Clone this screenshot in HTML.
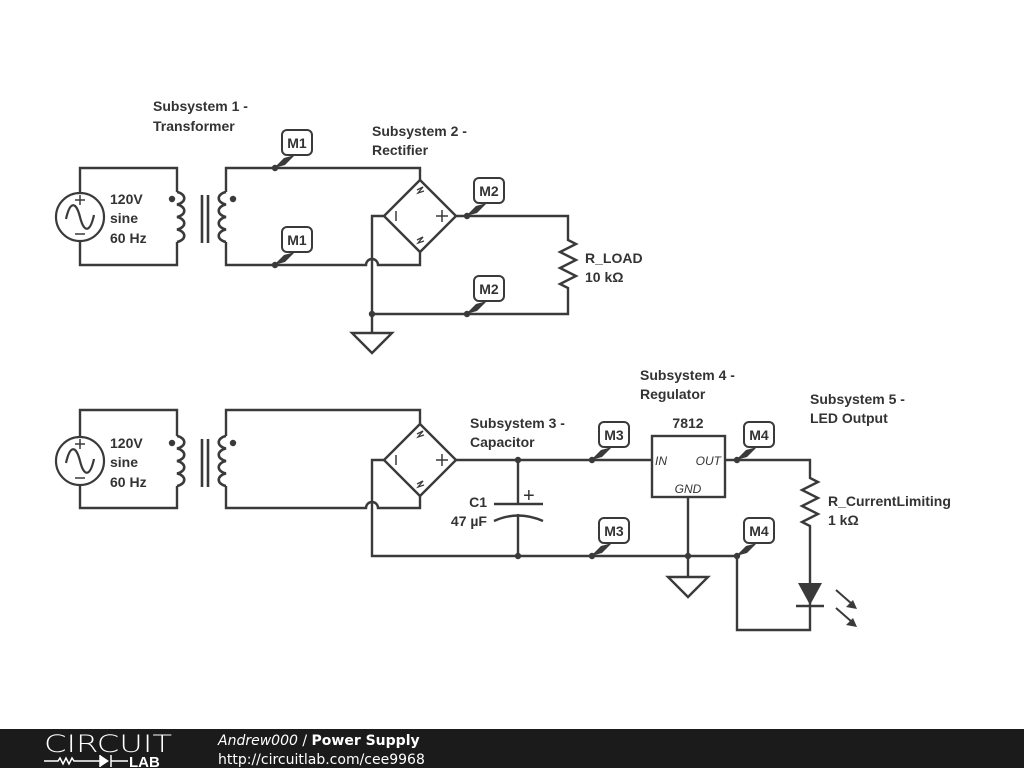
<!DOCTYPE html>
<html><head><style>
body{margin:0;width:1024px;height:768px;background:#fff;overflow:hidden;font-family:"Liberation Sans",sans-serif}
</style></head><body>
<svg width="1024" height="768" xmlns="http://www.w3.org/2000/svg">
<defs>
<g id="src"><circle r="24" fill="none" stroke="#3a3a3a" stroke-width="2.2"/><path d="M-14 2 C-10 -16 -4 -16 0 0 C4 16 10 16 14 -2" fill="none" stroke="#3a3a3a" stroke-width="2.2"/><path d="M-5 -17 h10 M0 -22 v10 M-5 17 h10" stroke="#3a3a3a" stroke-width="1.5"/></g>
<g id="xf" fill="none" stroke="#3a3a3a" stroke-width="2.6">
<path d="M177 192 a10 6.5 0 0 1 0 12.5 a10 6.5 0 0 1 0 12.5 a10 6.5 0 0 1 0 12.5 a10 6.5 0 0 1 0 12.5"/>
<path d="M226 192 a10 6.5 0 0 0 0 12.5 a10 6.5 0 0 0 0 12.5 a10 6.5 0 0 0 0 12.5 a10 6.5 0 0 0 0 12.5"/>
<path d="M202 195 v48 M208 195 v48"/>
</g>
<g id="br" fill="none" stroke="#3a3a3a" stroke-width="2.4"><path d="M420 180 L456 216 L420 252 L384 216 Z"/><path d="M396 211 v10 M436 216 h12 M442 210 v12" stroke-width="1.5"/><path d="M417 190 l6 -3 l-5 6 l6 -2 M417 240 l6 -3 l-5 6 l6 -2" stroke-width="1.3"/></g>
<g id="mk"><path d="M-1 0 L9 -10 L20 -13 L10 -3 Z" fill="#3a3a3a"/><rect x="7" y="-38" width="30" height="25" rx="5" fill="#fff" stroke="#3a3a3a" stroke-width="2"/></g>
</defs>
<g fill="none" stroke="#3a3a3a" stroke-width="2.4">
<path d="M80 193 V168 H177 V192 M177 242 V265 H80 V241"/>
<path d="M226 192 V168 H420 V180 M226 242 V265 H366 a6 6 0 0 1 12 0 H420 V252"/>
<path d="M384 216 H372 V333 M456 216 H568 V240 l8 4 l-16 8 l16 8 l-16 8 l16 8 l-16 8 l8 4 V314 H372"/>
<path d="M352 333 H392 L372 353 Z"/>
<path d="M80 437 V410 H177 V436 M177 486 V508 H80 V485"/>
<path d="M226 436 V410 H420 V424 M226 486 V508 H366 a6 6 0 0 1 12 0 H420 V496"/>
<path d="M384 460 H372 V556 H737 M456 460 H652 M725 460 H810 V478 l8 4 l-16 8 l16 8 l-16 8 l16 8 l-16 8 l8 4 V630 H737 V556"/>
<path d="M518 460 V504 M494 504 H543 M494 521 Q518 510 543 521 M518 514 V556"/>
<rect x="652" y="436" width="73" height="61"/>
<path d="M688 497 V577 M668 577 H708 L688 597 Z"/>
<path d="M796 606 H824"/>
<path d="M836 590 L852 604 M836 608 L852 622" stroke-width="2"/>
</g>
<path d="M798 583 H822 L810 605 Z" fill="#3a3a3a"/>
<path d="M857 609 l-11 -2 l7 -7 Z M857 627 l-11 -2 l7 -7 Z" fill="#3a3a3a"/>
<use href="#src" x="80" y="217"/><use href="#src" x="80" y="461"/>
<use href="#xf"/><use href="#xf" y="244"/>
<use href="#br"/><use href="#br" y="244"/>
<g fill="#3a3a3a">
<circle cx="172" cy="199" r="3.2"/><circle cx="233" cy="199" r="3.2"/><circle cx="172" cy="443" r="3.2"/><circle cx="233" cy="443" r="3.2"/>
<circle cx="275" cy="168" r="3.2"/><circle cx="275" cy="265" r="3.2"/><circle cx="467" cy="216" r="3.2"/><circle cx="467" cy="314" r="3.2"/><circle cx="372" cy="314" r="3.2"/>
<circle cx="518" cy="460" r="3.2"/><circle cx="518" cy="556" r="3.2"/><circle cx="592" cy="460" r="3.2"/><circle cx="592" cy="556" r="3.2"/><circle cx="688" cy="556" r="3.2"/><circle cx="737" cy="460" r="3.2"/><circle cx="737" cy="556" r="3.2"/>
</g>
<use href="#mk" x="275" y="168"/><use href="#mk" x="275" y="265"/><use href="#mk" x="467" y="216"/><use href="#mk" x="467" y="314"/>
<use href="#mk" x="592" y="460"/><use href="#mk" x="592" y="556"/><use href="#mk" x="737" y="460"/><use href="#mk" x="737" y="556"/>
<g font-family="Liberation Sans, sans-serif" font-weight="bold" font-size="14" fill="#333">
<text x="297" y="148" text-anchor="middle">M1</text><text x="297" y="245" text-anchor="middle">M1</text>
<text x="489" y="196" text-anchor="middle">M2</text><text x="489" y="294" text-anchor="middle">M2</text>
<text x="614" y="440" text-anchor="middle">M3</text><text x="614" y="536" text-anchor="middle">M3</text>
<text x="759" y="440" text-anchor="middle">M4</text><text x="759" y="536" text-anchor="middle">M4</text>
<text x="153" y="111">Subsystem 1 -</text><text x="153" y="131">Transformer</text>
<text x="372" y="136">Subsystem 2 -</text><text x="372" y="155">Rectifier</text>
<text x="110" y="204">120V</text><text x="110" y="223">sine</text><text x="110" y="243">60 Hz</text>
<text x="110" y="448">120V</text><text x="110" y="467">sine</text><text x="110" y="487">60 Hz</text>
<text x="585" y="263">R_LOAD</text><text x="585" y="282">10 kΩ</text>
<text x="470" y="428">Subsystem 3 -</text><text x="470" y="447">Capacitor</text>
<text x="640" y="380">Subsystem 4 -</text><text x="640" y="399">Regulator</text>
<text x="810" y="404">Subsystem 5 -</text><text x="810" y="423">LED Output</text>
<text x="688" y="428" text-anchor="middle">7812</text>
<text x="487" y="507" text-anchor="end">C1</text><text x="487" y="526" text-anchor="end">47 µF</text>
<text x="828" y="506">R_CurrentLimiting</text><text x="828" y="525">1 kΩ</text>
<text x="523" y="502" font-weight="normal" font-size="20">+</text>
</g>
<g font-family="Liberation Sans, sans-serif" font-style="italic" font-size="12" fill="#333">
<text x="655" y="465">IN</text><text x="721" y="465" text-anchor="end">OUT</text><text x="688" y="493" text-anchor="middle">GND</text>
</g>
<rect x="0" y="729" width="1024" height="39" fill="#1b1b1b"/>
<text x="44" y="752" font-family="DejaVu Sans, sans-serif" font-size="24" font-weight="200" fill="#fff" textLength="128" lengthAdjust="spacingAndGlyphs">CIRCUIT</text>
<path d="M44 761 H58 l2 -3 l3 6 l3 -6 l3 6 l3 -6 l2 3 H100 M100 755 v12 M111 755 v12 M111 761 H128" stroke="#fff" stroke-width="1.5" fill="none"/>
<path d="M100 755 L109 761 L100 767 Z" fill="#fff"/>
<text x="129" y="767" font-family="Liberation Sans, sans-serif" font-size="15" font-weight="bold" fill="#fff">LAB</text>
<text x="218" y="745" font-family="DejaVu Sans, sans-serif" font-size="14" fill="#fff"><tspan font-style="italic">Andrew000</tspan> / <tspan font-weight="bold">Power Supply</tspan></text>
<text x="218" y="764" font-family="DejaVu Sans, sans-serif" font-size="14" fill="#fff">http://circuitlab.com/cee9968</text>
</svg>
</body></html>
